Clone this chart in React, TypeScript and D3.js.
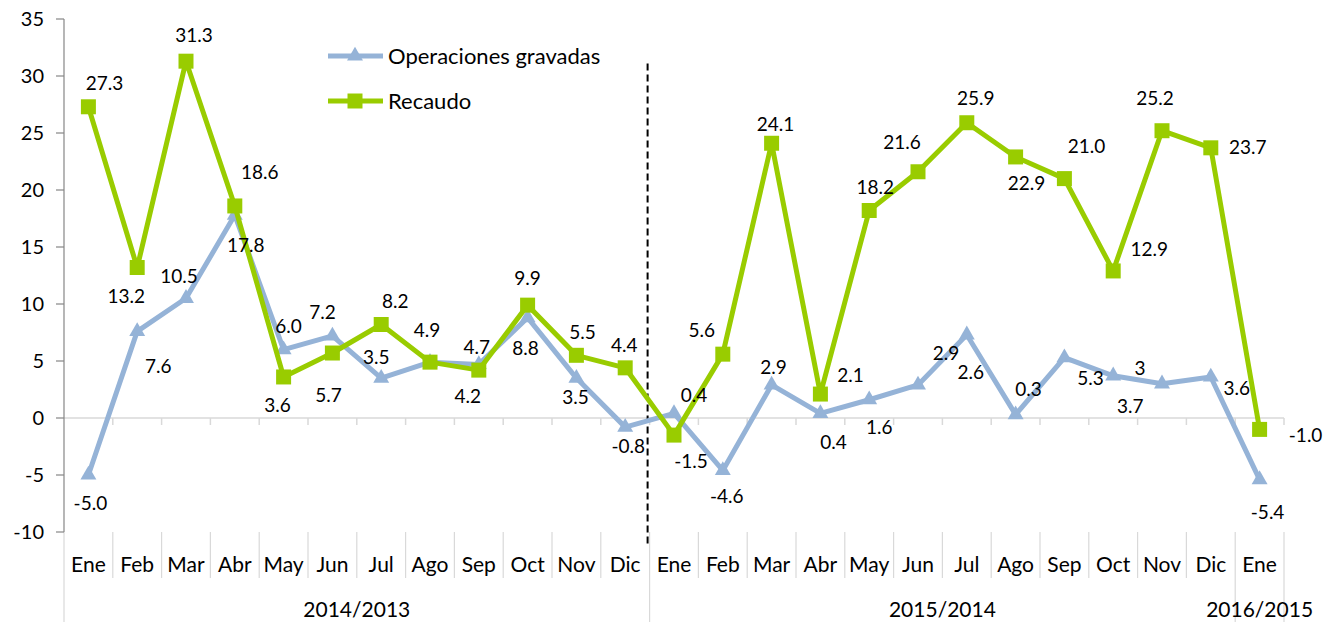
import React from 'react';
import * as d3 from 'd3';

// months on the category axis
const months = ['Ene', 'Feb', 'Mar', 'Abr', 'May', 'Jun', 'Jul', 'Ago', 'Sep', 'Oct', 'Nov', 'Dic',
  'Ene', 'Feb', 'Mar', 'Abr', 'May', 'Jun', 'Jul', 'Ago', 'Sep', 'Oct', 'Nov', 'Dic', 'Ene'];
const groupLabels = ['2014/2013', '2015/2014', '2016/2015'];
const groupSizes = [12, 12, 1];
const yTicks = [-10, -5, 0, 5, 10, 15, 20, 25, 30, 35];

const seriesNames = ['Operaciones gravadas', 'Recaudo'];

const operaciones = [-5.0, 7.6, 10.5, 17.8, 6.0, 7.2, 3.5, 4.9, 4.7, 8.8, 3.5, -0.8,
  0.4, -4.6, 2.9, 0.4, 1.6, 2.9, 7.3, 0.3, 5.3, 3.7, 3.0, 3.6, -5.4];
const recaudo = [27.3, 13.2, 31.3, 18.6, 3.6, 5.7, 8.2, 4.9, 4.2, 9.9, 5.5, 4.4,
  -1.5, 5.6, 24.1, 2.1, 18.2, 21.6, 25.9, 22.9, 21.0, 12.9, 25.2, 23.7, -1.0];

// data label texts as printed on the chart
const operacionesLabels = ['-5.0', '7.6', '10.5', '17.8', '6.0', '7.2', '3.5', '', '4.7', '8.8', '3.5', '-0.8',
  '0.4', '-4.6', '2.9', '0.4', '1.6', '2.9', '2.6', '0.3', '5.3', '3.7', '3', '3.6', '-5.4'];
const recaudoLabels = ['27.3', '13.2', '31.3', '18.6', '3.6', '5.7', '8.2', '4.9', '4.2', '9.9', '5.5', '4.4',
  '-1.5', '5.6', '24.1', '2.1', '18.2', '21.6', '25.9', '22.9', '21.0', '12.9', '25.2', '23.7', '-1.0'];

// label placement relative to each marker (px)
const opOffsets = [[2, 28], [21, 35], [-7, -22], [11, 30], [5, -23], [-10, -24], [-5, -21], [0, 0], [-2, -17], [-2, 30], [-1, 19], [3, 19],
  [20, -18], [4, 26], [2, -18], [13, 29], [10, 27], [28, -32], [4, 37], [13, -25], [26, 21], [17, 30], [-22, -16], [26, 11], [8, 33]];
const recOffsets = [[16, -24], [-11, 29], [8, -26], [25, -34], [-6, 28], [-4, 42], [14, -23], [-3, -32], [-11, 26], [0, -27], [6, -23], [-1, -23],
  [17, 26], [-21, -24], [4, -19], [30, -19], [6, -23], [-16, -30], [9, -25], [11, 26], [22, -32], [36, -22], [-7, -33], [37, -1], [46, 6]];

const W = 1327;
const H = 622;
const font = 'Lato, "Open Sans", sans-serif';
const blue = '#95B3D7';
const green = '#99CC00';

const App = () => {
  const idx = months.map((_, i) => i);
  const x = d3.scaleBand<number>().domain(idx).range([64, 1284]);
  const y = d3.scaleLinear().domain([-10, 35]).range([532, 19]);
  const cx = (i: number) => (x(i) as number) + x.bandwidth() / 2;

  const line = d3.line<number>()
    .x((_, i) => cx(i))
    .y(d => y(d));

  const tri = d3.symbol(d3.symbolTriangle, 110)() as string;
  const sq = d3.symbol(d3.symbolSquare, 225)() as string;

  // group boundaries (index where each year group starts/ends)
  const bounds = [0];
  groupSizes.forEach(s => bounds.push(bounds[bounds.length - 1] + s));
  const groupEdge = new Set(bounds);

  const x0 = x(0) as number;
  const xEnd = x0 + x.bandwidth() * months.length;
  const sepX = x0 + x.bandwidth() * groupSizes[0];

  return (
    <svg width={W} height={H} style={{ position: 'absolute', left: 0, top: 0, background: '#fff' }}
      fontFamily={font}>
      {/* zero line with tick marks */}
      <line x1={x0} x2={xEnd} y1={y(0)} y2={y(0)} stroke="#d9d9d9" strokeWidth={1.5} />
      {d3.range(1, months.length + 1).map(i => (
        <line key={'zt' + i} x1={x0 + i * x.bandwidth()} x2={x0 + i * x.bandwidth()}
          y1={y(0)} y2={y(0) + 7} stroke="#d9d9d9" strokeWidth={1.5} />
      ))}

      {/* category separators */}
      {d3.range(0, months.length + 1).map(i => {
        const xx = x0 + i * x.bandwidth();
        return (
          <line key={'cs' + i} x1={xx} x2={xx} y1={y(-10)} y2={groupEdge.has(i) ? H : 578}
            stroke="#d9d9d9" strokeWidth={1.2} />
        );
      })}

      {/* y axis */}
      <line x1={x0} x2={x0} y1={y(35)} y2={y(-10)} stroke="#868686" strokeWidth={1.2} />
      {yTicks.map(t => (
        <g key={'yt' + t}>
          <line x1={x0 - 8} x2={x0} y1={y(t)} y2={y(t)} stroke="#868686" strokeWidth={1.2} />
          <text x={44} y={y(t)} dy="0.36em" textAnchor="end" fontSize={20} fill="#000">{t}</text>
        </g>
      ))}

      {/* month labels */}
      {months.map((m, i) => (
        <text key={'m' + i} x={cx(i)} y={572} textAnchor="middle" fontSize={21} fill="#000">{m}</text>
      ))}
      {groupLabels.map((g, k) => {
        const a = x0 + bounds[k] * x.bandwidth();
        const b = x0 + bounds[k + 1] * x.bandwidth();
        return (
          <text key={'g' + k} x={(a + b) / 2} y={617} textAnchor="middle" fontSize={21} fill="#000">{g}</text>
        );
      })}

      {/* dashed separator between years */}
      <line x1={sepX - 2} x2={sepX - 2} y1={y(31.1)} y2={y(-11.2)} stroke="#000"
        strokeWidth={2} strokeDasharray="7,4" />

      {/* Operaciones gravadas */}
      <path d={line(operaciones) as string} fill="none" stroke={blue} strokeWidth={5} strokeLinejoin="round" />
      {operaciones.map((v, i) => (
        <path key={'bt' + i} d={tri} transform={`translate(${cx(i)},${y(v)})`} fill={blue} />
      ))}

      {/* Recaudo */}
      <path d={line(recaudo) as string} fill="none" stroke={green} strokeWidth={5} strokeLinejoin="round" />
      {recaudo.map((v, i) => (
        <path key={'gs' + i} d={sq} transform={`translate(${cx(i)},${y(v)})`} fill={green} />
      ))}

      {/* data labels */}
      {operaciones.map((v, i) => operacionesLabels[i] ? (
        <text key={'bl' + i} x={cx(i) + opOffsets[i][0]} y={y(v) + opOffsets[i][1]} dy="0.36em"
          textAnchor="middle" fontSize={19} fill="#000">{operacionesLabels[i]}</text>
      ) : null)}
      {recaudo.map((v, i) => (
        <text key={'gl' + i} x={cx(i) + recOffsets[i][0]} y={y(v) + recOffsets[i][1]} dy="0.36em"
          textAnchor="middle" fontSize={19} fill="#000">{recaudoLabels[i]}</text>
      ))}

      {/* legend */}
      {seriesNames.map((name, k) => {
        const ly = 56 + k * 45;
        const color = k === 0 ? blue : green;
        return (
          <g key={'lg' + k}>
            <line x1={328} x2={383} y1={ly} y2={ly} stroke={color} strokeWidth={5} />
            <path d={k === 0 ? tri : sq} transform={`translate(355,${ly})`} fill={color} />
            <text x={388} y={ly} dy="0.36em" fontSize={22} fill="#000">{name}</text>
          </g>
        );
      })}
    </svg>
  );
};

export default App;
